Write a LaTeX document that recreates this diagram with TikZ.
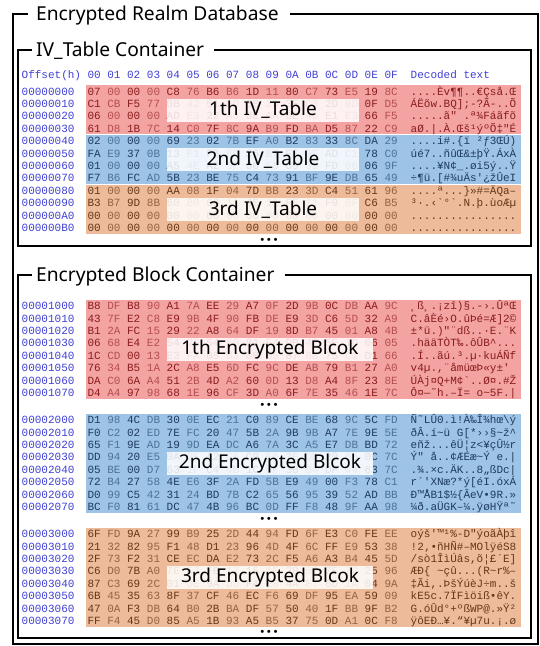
\documentclass[tikz,border=0pt]{standalone}
\usepackage{fontspec}
\setmainfont{Noto Sans}
\newfontfamily\hexfont{Liberation Mono}[Ligatures=TeXOff]
\usetikzlibrary{calc}
\definecolor{bandRed}{HTML}{F4A3A3}
\definecolor{bandBlue}{HTML}{9DC3E6}
\definecolor{bandOrg}{HTML}{EDBB9A}
\definecolor{redDk}{HTML}{8A1C1C}
\definecolor{redLt}{HTML}{B44E4E}
\definecolor{blueDk}{HTML}{1E3C60}
\definecolor{blueLt}{HTML}{4C7398}
\definecolor{orgDk}{HTML}{663718}
\definecolor{orgLt}{HTML}{966240}
\definecolor{offBlue}{HTML}{3F3FD2}
\def\tld{\char"7E }
\def\crt{\char"5E }
\def\bsl{\char"5C }
\tikzset{
  frame/.style={draw=black, line width=2.4pt},
  ttl/.style={anchor=base west, inner sep=0pt, font=\fontsize{19.2}{21}\selectfont},
  mono/.style={inner sep=0pt, anchor=west, font=\hexfont\fontsize{11}{12}\selectfont, text height=7.6pt, text depth=0.4pt},
  offs/.style={mono, text=offBlue},
  hexb/.style={mono},
  dect/.style={mono},
  lbl/.style={fill=white, fill opacity=0.85, text opacity=1, inner sep=0pt, font=\fontsize{19}{20}\selectfont, text=black, minimum height=23pt},
  dots/.style={inner sep=0pt, font=\hexfont\fontsize{11}{12}\selectfont, text=black}
}
\newcommand\hexline[5]{%
  \node[offs] (o#1) at (21.5,#2) {#1};
  \foreach \b [count=\k from 0] in {#4}{%
    \ifodd\k\relax\def\hc{#3Lt}\else\def\hc{#3Dk}\fi
    \node[hexb,text=\hc] (b#1-\k) at ({87.3+19.8*\k},#2) {\b};
  }
  \node[dect,text=#3Dk] (d#1) at (410.5,#2) {#5};
}
\begin{document}
\begin{tikzpicture}[x=1pt,y=-1pt]
\useasboundingbox (0,0) rectangle (540,646);
\coordinate (f0) at (13,14);
\coordinate (f1) at (18,50);
\coordinate (f2) at (18,275);
% bands
\fill[bandRed]  (86,85.3) rectangle (521,134.4);
\fill[bandBlue] (86,135.4) rectangle (521,184);
\fill[bandOrg]  (86,185) rectangle (521,234.1);
\fill[bandRed]  (86,299.8) rectangle (521,399);
\fill[bandBlue] (86,413.8) rectangle (521,513);
\fill[bandOrg]  (86,527.8) rectangle (521,627);
% header
\node[offs] (hoff) at (21.5,75) {Offset(h)};
\foreach \h [count=\k from 0] in {00,01,02,03,04,05,06,07,08,09,0A,0B,0C,0D,0E,0F}{
  \node[offs] (hc\k) at ({87.3+19.8*\k},75) {\h};
}
\node[offs] (hdec) at (410.5,75) {Decoded text};
% IV table
\hexline{00000000}{91.5}{red}{07,00,00,00,C8,76,B6,B6,1D,11,80,C7,73,E5,19,8C}{....Èv¶¶..€Çså.Œ}
\hexline{00000010}{103.9}{red}{C1,CB,F5,77,0B,42,51,5D,3B,2D,3F,C3,2D,9D,0F,D5}{ÁËõw.BQ];-?Ã-..Õ}
\hexline{00000020}{116.3}{red}{06,00,00,00,AD,E3,22,A0,0E,AA,BE,46,E1,E3,66,F5}{.....ã"\ .ª¾Fáãfõ}
\hexline{00000030}{128.7}{red}{61,D8,1B,7C,14,C0,7F,8C,9A,B9,FD,BA,D5,87,22,C9}{aØ.|.À.Œš¹ýºÕ‡"É}
\hexline{00000040}{141.1}{blue}{02,00,00,00,69,23,02,7B,EF,A0,B2,83,33,8C,DA,29}{....i\#.\{ï\ ²ƒ3ŒÚ)}
\hexline{00000050}{153.5}{blue}{FA,E9,37,0B,13,F1,FB,8C,26,B1,FE,9F,AD,C1,78,C0}{úé7..ñûŒ\&±þŸ.ÁxÀ}
\hexline{00000060}{165.9}{blue}{01,00,00,00,A5,4E,A2,5F,00,F8,69,35,FD,00,06,9F}{....¥N¢\_.øi5ý..Ÿ}
\hexline{00000070}{178.3}{blue}{F7,B6,FC,AD,5B,23,BE,75,C4,73,91,BF,9E,DB,65,49}{÷¶ü.[\#¾uÄs'¿žÛeI}
\hexline{00000080}{190.7}{org}{01,00,00,00,AA,08,1F,04,7D,BB,23,3D,C4,51,61,96}{....ª...\}»\#=ÄQa–}
\hexline{00000090}{203.1}{org}{B3,B7,9D,8B,60,B0,60,11,4E,11,FE,11,F9,6F,C6,B5}{³·.‹`°`.N.þ.ùoÆµ}
\hexline{000000A0}{215.5}{org}{00,00,00,00,00,00,00,00,00,00,00,00,00,00,00,00}{................}
\hexline{000000B0}{227.9}{org}{00,00,00,00,00,00,00,00,00,00,00,00,00,00,00,00}{................}
% block 1
\hexline{00001000}{306}{red}{B8,DF,B8,90,A1,7A,EE,29,A7,0F,2D,9B,0C,DB,AA,9C}{¸ß¸.¡zî)§.-›.ÛªŒ}
\hexline{00001010}{318.4}{red}{43,7F,E2,C8,E9,9B,4F,90,FB,DE,E9,3D,C6,5D,32,A9}{C.âÈé›O.ûÞé=Æ]2©}
\hexline{00001020}{330.8}{red}{B1,2A,FC,15,29,22,A8,64,DF,19,8D,B7,45,01,A8,4B}{±*ü.)"¨dß..·E.¨K}
\hexline{00001030}{343.2}{red}{06,68,E4,E2,54,D2,54,89,01,F4,DB,42,5E,1D,06,05}{.hääTÒT‰.ôÛB\crt...}
\hexline{00001040}{355.6}{red}{1C,CD,00,13,E3,FA,05,B3,0B,B5,B7,6B,75,C1,D1,66}{.Í..ãú.³.µ·kuÁÑf}
\hexline{00001050}{368}{red}{76,34,B5,1A,2C,A8,E5,6D,FC,9C,DE,AB,79,B1,27,A0}{v4µ.,¨åmüœÞ«y±'}
\hexline{00001060}{380.4}{red}{DA,C0,6A,A4,51,2B,4D,A2,60,0D,13,D8,A4,8F,23,8E}{ÚÀj¤Q+M¢`..Ø¤.\#Ž}
\hexline{00001070}{392.8}{red}{D4,A4,97,98,68,1E,96,CF,3D,A0,6F,7E,35,46,1E,7C}{Ô¤—˜h.–Ï=\ o\tld 5F.|}
% block 2
\hexline{00002000}{420}{blue}{D1,98,4C,DB,30,0E,EC,21,C0,89,CE,BE,68,9C,5C,FD}{Ñ˜LÛ0.ì!À‰Î¾hœ\bsl ý}
\hexline{00002010}{432.4}{blue}{F0,C2,02,ED,7E,FC,20,47,5B,2A,9B,9B,A7,7E,9E,5E}{ðÂ.í\tld ü\ G[*››§\tld ž\crt}
\hexline{00002020}{444.8}{blue}{65,F1,9E,AD,19,9D,EA,DC,A6,7A,3C,A5,E7,DB,BD,72}{eñž...êÜ¦z<¥çÛ½r}
\hexline{00002030}{457.2}{blue}{DD,94,20,E5,0A,0E,A2,C6,C9,E6,7E,DD,20,65,0C,7C}{Ý"\ å..¢ÆÉæ\tld Ý\ e.|}
\hexline{00002040}{469.6}{blue}{05,BE,00,D7,63,1F,C4,4B,1C,0F,38,84,DF,44,63,7C}{.¾.×c.ÄK..8„ßDc|}
\hexline{00002050}{482}{blue}{72,B4,27,58,4E,E6,3F,2A,FD,5B,E9,49,00,F3,78,C1}{r´'XNæ?*ý[éI.óxÁ}
\hexline{00002060}{494.4}{blue}{D0,99,C5,42,31,24,BD,7B,C2,65,56,95,39,52,AD,BB}{Ð™ÅB1\$½\{ÂeV•9R.»}
\hexline{00002070}{506.8}{blue}{BC,F0,81,61,DC,47,4B,96,BC,0D,FF,F8,48,9F,AA,98}{¼ð.aÜGK–¼.ÿøHŸª˜}
% block 3
\hexline{00003000}{534}{org}{6F,FD,9A,27,99,B9,25,2D,44,94,FD,6F,E3,C0,FE,EE}{oýš'™¹\%-D"ýoãÀþî}
\hexline{00003010}{546.4}{org}{21,32,82,95,F1,48,D1,23,96,4D,4F,6C,FF,E9,53,38}{!2‚•ñHÑ\#–MOlÿéS8}
\hexline{00003020}{558.8}{org}{2F,73,F2,31,CE,EC,DA,E2,73,2C,F5,A6,A3,B4,45,5D}{/sò1ÎìÚâs,õ¦£´E]}
\hexline{00003030}{571.2}{org}{C6,D0,7B,A0,7E,E7,FB,17,15,1F,28,52,7E,72,25,96}{ÆÐ\{\ \tld çû...(R\tld r\%–}
\hexline{00003040}{583.6}{org}{87,C3,69,2C,01,DE,9A,DD,FA,E8,4A,F7,6D,1A,04,9A}{‡Ãi,.ÞšÝúèJ÷m..š}
\hexline{00003050}{596}{org}{6B,45,35,63,8F,37,CF,46,EC,F6,69,DF,95,EA,59,09}{kE5c.7ÏFìöiß•êY.}
\hexline{00003060}{608.4}{org}{47,0A,F3,DB,64,B0,2B,BA,DF,57,50,40,1F,BB,9F,B2}{G.óÛd°+ºßWP@.»Ÿ²}
\hexline{00003070}{620.8}{org}{FF,F4,45,D0,85,A5,1B,93,A5,B5,37,75,0D,A1,0C,F8}{ÿôEÐ…¥.“¥µ7u.¡.ø}
% labels
\node[lbl, minimum width=192pt] (iv1) at (263,110.1) {1th IV\_Table};
\node[lbl, minimum width=192pt] (iv2) at (263,159.7) {2nd IV\_Table};
\node[lbl, minimum width=192pt] (iv3) at (263,209.3) {3rd IV\_Table};
\node[lbl, minimum width=206pt] (eb1) at (270,349.4) {1th Encrypted Blcok};
\node[lbl, minimum width=206pt] (eb2) at (270,463.4) {2nd Encrypted Blcok};
\node[lbl, minimum width=206pt] (eb3) at (270,577.4) {3rd Encrypted Blcok};
% dots
\node[dots] (dv) at (269,240.5) {•••};
\node[dots] (d1) at (269,405.5) {•••};
\node[dots] (d2) at (269,520) {•••};
\node[dots] (d3) at (269,632.5) {•••};
% titles and frames
\node[ttl] (t0) at (36,20.9) {Encrypted Realm Database};
\node[ttl] (t1) at (36,56.9) {IV\_Table Container};
\node[ttl] (t2) at (36,281.9) {Encrypted Block Container};
\draw[frame] ($(t0.east |- f0)+(11,0)$) -- (538,14) -- (538,644) -- (13,644) -- (13,14) -- ($(t0.west |- f0)+(-8,0)$);
\draw[frame] ($(t1.east |- f1)+(10,0)$) -- (531,50) -- (531,246) -- (18,246) -- (18,50) -- ($(t1.west |- f1)+(-4,0)$);
\draw[frame] ($(t2.east |- f2)+(10,0)$) -- (531,275) -- (531,638) -- (18,638) -- (18,275) -- ($(t2.west |- f2)+(-4,0)$);
\end{tikzpicture}
\end{document}
